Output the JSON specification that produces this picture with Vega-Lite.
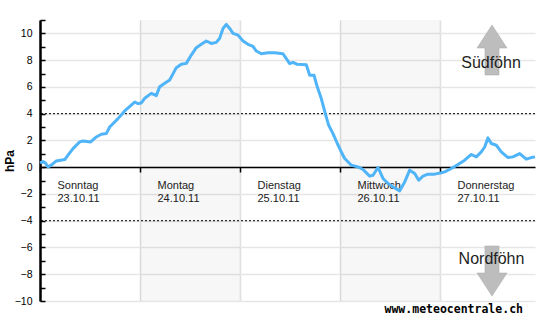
{
  "$schema": "https://vega.github.io/schema/vega-lite/v6.json",
  "width": 495,
  "height": 281,
  "autosize": {"type": "none"},
  "padding": {"left": 40, "top": 20, "right": 19, "bottom": 19},
  "background": "white",
  "config": {"view": {"stroke": null}, "font": "Liberation Sans"},
  "layer": [
    {
      "data": {"values": [{"t": 1, "t2": 2}, {"t": 3, "t2": 4}]},
      "mark": {"type": "rect", "fill": "#000000", "fillOpacity": 0.032},
      "encoding": {
        "x": {"field": "t", "type": "quantitative", "scale": {"domain": [0, 4.95], "nice": false, "zero": false}},
        "x2": {"field": "t2"}
      }
    },
    {
      "data": {"values": [{"v": 4}, {"v": -4}]},
      "mark": {"type": "rule", "color": "#000000", "strokeWidth": 1, "strokeDash": [2, 2]},
      "encoding": {
        "y": {"field": "v", "type": "quantitative", "scale": {"domain": [-10, 11], "nice": false, "zero": false}}
      }
    },
    {
      "data": {"values": [
        {"t": 0.0, "v": 0.32}, {"t": 0.03, "v": 0.42}, {"t": 0.053, "v": 0.32}, {"t": 0.08, "v": 0.02},
        {"t": 0.113, "v": 0.15}, {"t": 0.163, "v": 0.47}, {"t": 0.247, "v": 0.57}, {"t": 0.28, "v": 0.9},
        {"t": 0.33, "v": 1.39}, {"t": 0.397, "v": 1.89}, {"t": 0.43, "v": 1.96}, {"t": 0.507, "v": 1.89},
        {"t": 0.563, "v": 2.26}, {"t": 0.613, "v": 2.46}, {"t": 0.663, "v": 2.51}, {"t": 0.697, "v": 3.0},
        {"t": 0.78, "v": 3.63}, {"t": 0.847, "v": 4.2}, {"t": 0.947, "v": 4.87}, {"t": 0.98, "v": 4.75},
        {"t": 1.013, "v": 4.8}, {"t": 1.047, "v": 5.15}, {"t": 1.113, "v": 5.52}, {"t": 1.163, "v": 5.35},
        {"t": 1.197, "v": 6.02}, {"t": 1.247, "v": 6.27}, {"t": 1.297, "v": 6.52}, {"t": 1.363, "v": 7.44},
        {"t": 1.413, "v": 7.69}, {"t": 1.463, "v": 7.76}, {"t": 1.513, "v": 8.38}, {"t": 1.563, "v": 8.93},
        {"t": 1.613, "v": 9.18}, {"t": 1.663, "v": 9.43}, {"t": 1.713, "v": 9.25}, {"t": 1.763, "v": 9.33},
        {"t": 1.797, "v": 9.63}, {"t": 1.83, "v": 10.37}, {"t": 1.863, "v": 10.67}, {"t": 1.897, "v": 10.37},
        {"t": 1.93, "v": 10.0}, {"t": 1.98, "v": 9.87}, {"t": 2.03, "v": 9.43}, {"t": 2.08, "v": 9.18},
        {"t": 2.13, "v": 9.03}, {"t": 2.163, "v": 8.68}, {"t": 2.213, "v": 8.48}, {"t": 2.28, "v": 8.56},
        {"t": 2.347, "v": 8.56}, {"t": 2.43, "v": 8.48}, {"t": 2.463, "v": 8.11}, {"t": 2.497, "v": 7.74},
        {"t": 2.53, "v": 7.84}, {"t": 2.573, "v": 7.69}, {"t": 2.663, "v": 7.66}, {"t": 2.697, "v": 6.87},
        {"t": 2.74, "v": 6.87}, {"t": 2.773, "v": 5.99}, {"t": 2.813, "v": 5.13}, {"t": 2.853, "v": 4.0},
        {"t": 2.887, "v": 3.13}, {"t": 2.93, "v": 2.51}, {"t": 2.973, "v": 1.77}, {"t": 3.013, "v": 1.14},
        {"t": 3.047, "v": 0.65}, {"t": 3.113, "v": 0.15}, {"t": 3.18, "v": 0.02}, {"t": 3.23, "v": -0.17},
        {"t": 3.297, "v": -0.67}, {"t": 3.33, "v": -0.6}, {"t": 3.38, "v": -0.02}, {"t": 3.43, "v": -0.84},
        {"t": 3.48, "v": -1.22}, {"t": 3.53, "v": -1.47}, {"t": 3.597, "v": -1.77}, {"t": 3.647, "v": -1.1},
        {"t": 3.697, "v": -0.22}, {"t": 3.747, "v": -0.47}, {"t": 3.787, "v": -0.97}, {"t": 3.83, "v": -0.67},
        {"t": 3.88, "v": -0.52}, {"t": 3.947, "v": -0.52}, {"t": 4.013, "v": -0.42}, {"t": 4.047, "v": -0.35},
        {"t": 4.113, "v": -0.1}, {"t": 4.18, "v": 0.2}, {"t": 4.247, "v": 0.52}, {"t": 4.313, "v": 0.95},
        {"t": 4.363, "v": 0.77}, {"t": 4.413, "v": 1.14}, {"t": 4.447, "v": 1.51}, {"t": 4.48, "v": 2.19},
        {"t": 4.513, "v": 1.77}, {"t": 4.563, "v": 1.64}, {"t": 4.613, "v": 1.14}, {"t": 4.68, "v": 0.72},
        {"t": 4.73, "v": 0.77}, {"t": 4.797, "v": 1.02}, {"t": 4.863, "v": 0.6}, {"t": 4.913, "v": 0.72},
        {"t": 4.95, "v": 0.77}
      ]},
      "mark": {"type": "line", "color": "#50b4f8", "strokeWidth": 3, "strokeJoin": "round"},
      "encoding": {
        "x": {
          "field": "t", "type": "quantitative",
          "scale": {"domain": [0, 4.95], "nice": false, "zero": false},
          "axis": {
            "title": null,
            "orient": "bottom",
            "offset": -134,
            "values": [0, 1, 2, 3, 4],
            "tickCount": 20,
            "domainColor": "#000000",
            "domainWidth": 1.5,
            "tickColor": "#000000",
            "tickWidth": 1.5,
            "tickSize": 5,
            "grid": true,
            "gridColor": "#e0e0e0",
            "gridWidth": 1.5,
            "labelExpr": "[['Sonntag','23.10.11'],['Montag','24.10.11'],['Dienstag','25.10.11'],['Mittwoch','26.10.11'],['Donnerstag','27.10.11']][datum.value]",
            "labelAlign": "left",
            "labelBaseline": "top",
            "labelOffset": 17,
            "labelPadding": 7,
            "labelLineHeight": 13,
            "labelFontSize": 11,
            "labelColor": "#222222",
            "labelFont": "Liberation Sans",
            "labelOverlap": false,
            "labelFlush": false,
            "labelBound": false
          }
        },
        "y": {
          "field": "v", "type": "quantitative",
          "scale": {"domain": [-10, 11], "nice": false, "zero": false},
          "axis": {
            "title": "hPa",
            "titleFontSize": 12,
            "titleFontWeight": "bold",
            "titleColor": "#000000",
            "titleFont": "Liberation Sans",
            "titlePadding": -2,
            "values": [-10, -9, -8, -7, -6, -5, -4, -3, -2, -1, 0, 1, 2, 3, 4, 5, 6, 7, 8, 9, 10, 11],
            "tickCount": 40,
            "format": "d",
            "labelExpr": "datum.value % 2 === 0 ? datum.label : ''",
            "domainColor": "#000000",
            "domainWidth": 2.5,
            "tickColor": "#000000",
            "tickWidth": 1.5,
            "tickSize": -5,
            "labelPadding": 13,
            "labelFontSize": 10.5,
            "labelColor": "#000000",
            "labelFont": "Liberation Sans",
            "labelOverlap": false,
            "labelFlush": false,
            "grid": true,
            "gridColor": "#e6e6e6",
            "gridWidth": 1.5,
            "gridOpacity": {"condition": {"test": "datum.value % 2 === 0", "value": 1}, "value": 0}
          }
        }
      }
    },
    {
      "data": {"values": [{"t": 4.52, "v": 8.76}]},
      "mark": {
        "type": "point", "filled": true, "size": 900, "fill": "#bdbdbd", "stroke": "#a8a8a8", "strokeWidth": 0.5, "opacity": 1,
        "shape": "M0,-1.67 L1,-0.13 L0.47,-0.13 L0.47,1.67 L-0.47,1.67 L-0.47,-0.13 L-1,-0.13 Z"
      },
      "encoding": {
        "x": {"field": "t", "type": "quantitative", "scale": {"domain": [0, 4.95], "nice": false, "zero": false}},
        "y": {"field": "v", "type": "quantitative", "scale": {"domain": [-10, 11], "nice": false, "zero": false}}
      }
    },
    {
      "data": {"values": [{"t": 4.52, "v": -7.76}]},
      "mark": {
        "type": "point", "filled": true, "size": 900, "fill": "#bdbdbd", "stroke": "#a8a8a8", "strokeWidth": 0.5, "opacity": 1,
        "shape": "M-0.47,-1.67 L0.47,-1.67 L0.47,0.13 L1,0.13 L0,1.67 L-1,0.13 L-0.47,0.13 Z"
      },
      "encoding": {
        "x": {"field": "t", "type": "quantitative", "scale": {"domain": [0, 4.95], "nice": false, "zero": false}},
        "y": {"field": "v", "type": "quantitative", "scale": {"domain": [-10, 11], "nice": false, "zero": false}}
      }
    },
    {
      "data": {"values": [{"t": 4.51, "v": 7.39, "label": "Südföhn"}, {"t": 4.515, "v": -7.23, "label": "Nordföhn"}]},
      "mark": {"type": "text", "align": "center", "baseline": "alphabetic", "fontSize": 16, "font": "Liberation Sans", "color": "#1e1e1e"},
      "encoding": {
        "x": {"field": "t", "type": "quantitative", "scale": {"domain": [0, 4.95], "nice": false, "zero": false}},
        "y": {"field": "v", "type": "quantitative", "scale": {"domain": [-10, 11], "nice": false, "zero": false}},
        "text": {"field": "label"}
      }
    },
    {
      "data": {"values": [{"t": 4.83, "v": -10.88, "label": "www.meteocentrale.ch"}]},
      "mark": {"type": "text", "align": "right", "baseline": "alphabetic", "fontSize": 11.5, "font": "DejaVu Sans Mono", "fontWeight": "bold", "color": "#000000"},
      "encoding": {
        "x": {"field": "t", "type": "quantitative", "scale": {"domain": [0, 4.95], "nice": false, "zero": false}},
        "y": {"field": "v", "type": "quantitative", "scale": {"domain": [-10, 11], "nice": false, "zero": false}},
        "text": {"field": "label"}
      }
    }
  ]
}
